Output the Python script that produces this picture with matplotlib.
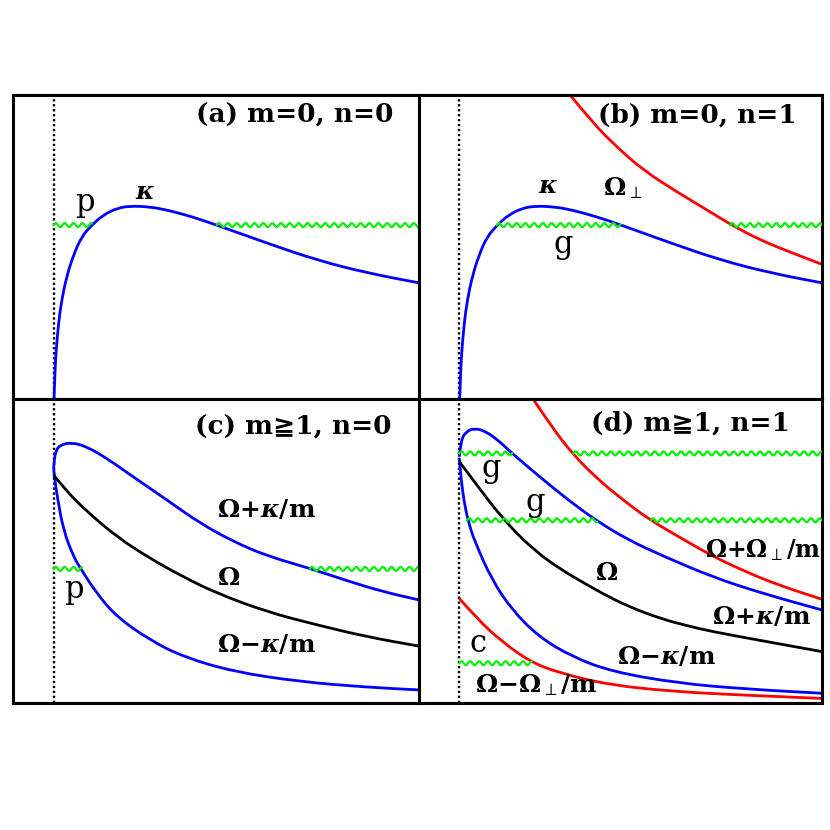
"""Frequency curves for the four (m, n) cases, with the resonance bands."""

import numpy as np
import matplotlib
matplotlib.use('Agg')
import matplotlib.pyplot as plt
from matplotlib.path import Path
from matplotlib.patches import PathPatch

plt.rcParams['mathtext.fontset'] = 'custom'
plt.rcParams['mathtext.rm'] = 'DejaVu Serif:bold'
plt.rcParams['mathtext.it'] = 'DejaVu Serif:bold:italic'
plt.rcParams['mathtext.bf'] = 'DejaVu Serif:bold'
plt.rcParams['mathtext.default'] = 'rm'
plt.rcParams['mathtext.fallback'] = 'stix'

# radius (inner edge at r=1) and frequency, both in arbitrary units 0..10
# epicyclic frequency kappa, panels (a) and (b)
r_kappa = [1.01, 1.03, 1.05, 1.12, 1.20, 1.32, 1.49, 1.69, 1.94, 2.22, 2.55,
           2.88, 3.37, 3.79, 4.40, 5.02, 6.25, 7.48, 8.71, 10.0]
w_kappa = [0.00, 0.73, 1.39, 2.49, 3.26, 4.02, 4.74, 5.34, 5.72, 6.05, 6.27,
           6.35, 6.32, 6.22, 6.00, 5.72, 5.13, 4.57, 4.15, 3.82]

# vertical frequency, panel (b)
r_perp = [3.75, 4.32, 4.90, 5.56, 6.39, 7.22, 7.72, 8.46, 9.29, 10.0]
w_perp = [10.0, 9.07, 8.30, 7.53, 6.82, 6.16, 5.75, 5.23, 4.79, 4.43]

# panel (c): Omega +- kappa/m and Omega
r_c_up = [1.00, 1.02, 1.06, 1.16, 1.45, 1.82, 2.31, 2.96, 3.79, 4.61, 5.43,
          6.25, 7.31, 8.30, 9.12, 10.0]
w_c_up = [7.72, 8.05, 8.30, 8.49, 8.57, 8.43, 8.05, 7.44, 6.68, 5.91, 5.31,
          4.84, 4.43, 3.99, 3.66, 3.39]
r_c_lo = [1.00, 1.04, 1.09, 1.24, 1.49, 1.69, 2.06, 2.55, 3.37, 4.19, 5.43,
          7.07, 8.71, 10.0]
w_c_lo = [7.72, 7.25, 6.79, 5.69, 4.81, 4.37, 3.61, 2.84, 2.07, 1.52, 1.03,
          0.70, 0.52, 0.43]
r_c_om = [1.00, 1.29, 1.78, 2.55, 3.37, 4.19, 5.02, 6.25, 7.48, 8.71, 10.0]
w_c_om = [7.50, 7.01, 6.35, 5.47, 4.76, 4.15, 3.61, 3.00, 2.57, 2.18, 1.87]

# panel (d): Omega +- Omega_perp/m, Omega +- kappa/m and Omega
r_d_pup = [2.83, 3.29, 3.83, 4.46, 5.12, 5.70, 6.44, 7.27, 8.10, 8.92, 10.0]
w_d_pup = [10.0, 9.09, 8.16, 7.33, 6.62, 6.05, 5.47, 4.84, 4.32, 3.88, 3.41]
r_d_kup = [1.00, 1.04, 1.17, 1.38, 1.67, 2.01, 2.31, 3.05, 3.70, 4.42, 5.20,
           6.03, 7.27, 8.51, 10.0]
w_d_kup = [8.10, 8.65, 8.93, 9.04, 8.93, 8.59, 8.21, 7.38, 6.68, 5.98, 5.36,
           4.85, 4.15, 3.61, 3.06]
r_d_klo = [1.00, 1.04, 1.11, 1.23, 1.40, 1.81, 2.31, 2.97, 3.80, 4.79, 6.44,
           8.10, 10.0]
w_d_klo = [8.04, 7.44, 6.68, 5.92, 5.26, 4.05, 3.06, 2.18, 1.52, 1.03, 0.65,
           0.46, 0.32]
r_d_om = [1.00, 1.40, 2.11, 2.89, 3.55, 4.04, 4.54, 5.20, 6.03, 6.69, 7.27,
          8.71, 10.0]
w_d_om = [7.94, 7.23, 6.00, 4.98, 4.37, 3.99, 3.61, 3.17, 2.76, 2.53, 2.35,
          2.00, 1.69]
r_d_plo = [1.00, 1.43, 2.01, 2.75, 3.50, 4.74, 6.39, 8.05, 10.0]
w_d_plo = [3.44, 2.79, 2.07, 1.36, 0.98, 0.59, 0.37, 0.26, 0.15]

# wavy bands: (frequency, r start, r end)
bands_a = [(5.72, 1.00, 1.94), (5.72, 5.02, 10.0)]
bands_b = [(5.72, 1.93, 4.99), (5.72, 7.72, 10.0)]
bands_c = [(4.41, 1.00, 1.69), (4.41, 7.31, 10.0)]
bands_d = [(8.21, 1.00, 2.31), (8.21, 3.83, 10.0),
           (6.01, 1.19, 4.42), (6.01, 5.75, 10.0),
           (1.31, 1.00, 2.79)]

titles = ['(a) m=0, n=0', '(b) m=0, n=1', '(c) m\u22671, n=0', '(d) m\u22671, n=1']

BLUE = '#0000ff'
RED = '#ff0000'
GREEN = '#00ee00'
LW = 2.0

fig = plt.figure(figsize=(8.3, 8.3), dpi=100)
W = 830.0
boxes = [(13, 95, 419, 399), (419, 95, 822, 399),
         (13, 399, 419, 703), (419, 399, 822, 703)]
axes = []
for (x0, y0, x1, y1) in boxes:
    ax = fig.add_axes([x0 / W, (W - y1) / W, (x1 - x0) / W, (y1 - y0) / W])
    ax.set_xlim(0, 10)
    ax.set_ylim(0, 10)
    ax.set_xticks([])
    ax.set_yticks([])
    for s in ax.spines.values():
        s.set_linewidth(2.2)
    ax.axvline(1.0, color='k', lw=1.7, ls=(0, (1.0, 1.1)), zorder=1)
    axes.append(ax)
ax_a, ax_b, ax_c, ax_d = axes


def curve(ax, xs, ys, color):
    # smooth path through the read points (quadratic pieces between midpoints)
    pts = np.column_stack([xs, ys])
    verts = [pts[0]]
    codes = [Path.MOVETO]
    for i in range(1, len(pts) - 1):
        verts += [pts[i], (pts[i] + pts[i + 1]) / 2]
        codes += [Path.CURVE3, Path.CURVE3]
    verts.append(pts[-1])
    codes.append(Path.LINETO)
    ax.add_patch(PathPatch(Path(verts, codes), fill=False, edgecolor=color,
                           lw=LW, zorder=2))


def wavy(ax, y, x0, x1):
    # draws the band as a small sine wiggle
    x = np.linspace(x0, x1, 600)
    ax.plot(x, y + 0.065 * np.sin(2 * np.pi * (x - x0) / 0.218),
            color=GREEN, lw=1.6, zorder=3)


for ax, bands in zip(axes, [bands_a, bands_b, bands_c, bands_d]):
    for y, x0, x1 in bands:
        wavy(ax, y, x0, x1)

curve(ax_a, r_kappa, w_kappa, BLUE)
curve(ax_b, r_kappa, w_kappa, BLUE)
curve(ax_b, r_perp, w_perp, RED)

curve(ax_c, r_c_up, w_c_up, BLUE)
curve(ax_c, r_c_lo, w_c_lo, BLUE)
curve(ax_c, r_c_om, w_c_om, 'k')

curve(ax_d, r_d_pup, w_d_pup, RED)
curve(ax_d, r_d_kup, w_d_kup, BLUE)
curve(ax_d, r_d_klo, w_d_klo, BLUE)
curve(ax_d, r_d_om, w_d_om, 'k')
curve(ax_d, r_d_plo, w_d_plo, RED)

tfont = dict(family=['DejaVu Serif', 'DejaVu Sans'], weight='bold', fontsize=19)
for ax, t, (tx, ty) in zip(axes, titles,
                           [(9.36, 9.34), (9.38, 9.34), (9.33, 9.08), (9.20, 9.20)]):
    ax.text(tx, ty, t, ha='right', va='center', **tfont)

lfont = dict(fontsize=18, va='center')
sfont = dict(family='DejaVu Serif', fontsize=22, ha='center', va='center')

ax_a.text(1.77, 6.45, 'p', **sfont)
ax_a.text(3.25, 6.81, r'$\mathit{\kappa}$', ha='center', **lfont)

ax_b.text(3.20, 7.01, r'$\mathit{\kappa}$', ha='center', **lfont)
ax_b.text(5.06, 6.94, r'$\Omega_{\perp}$', ha='center', **lfont)
ax_b.text(3.57, 5.07, 'g', **sfont)

ax_c.text(5.02, 6.35, r'$\Omega{+}\mathit{\kappa}/m$', ha='left', **lfont)
ax_c.text(5.02, 4.11, r'$\Omega$', ha='left', **lfont)
ax_c.text(5.02, 1.91, r'$\Omega{-}\mathit{\kappa}/m$', ha='left', **lfont)
ax_c.text(1.50, 3.72, 'p', **sfont)

ax_d.text(1.80, 7.73, 'g', **sfont)
ax_d.text(2.88, 6.58, 'g', **sfont)
ax_d.text(9.98, 5.03, r'$\Omega{+}\Omega_{\perp}/m$', ha='right', va='center',
          fontsize=17)
ax_d.text(4.66, 4.28, r'$\Omega$', ha='center', **lfont)
ax_d.text(7.27, 2.83, r'$\Omega{+}\mathit{\kappa}/m$', ha='left', **lfont)
ax_d.text(4.91, 1.51, r'$\Omega{-}\mathit{\kappa}/m$', ha='left', **lfont)
ax_d.text(1.46, 1.97, 'c', **sfont)
ax_d.text(1.39, 0.59, r'$\Omega{-}\Omega_{\perp}/m$', ha='left', **lfont)

fig.savefig('out.png', dpi=100)
